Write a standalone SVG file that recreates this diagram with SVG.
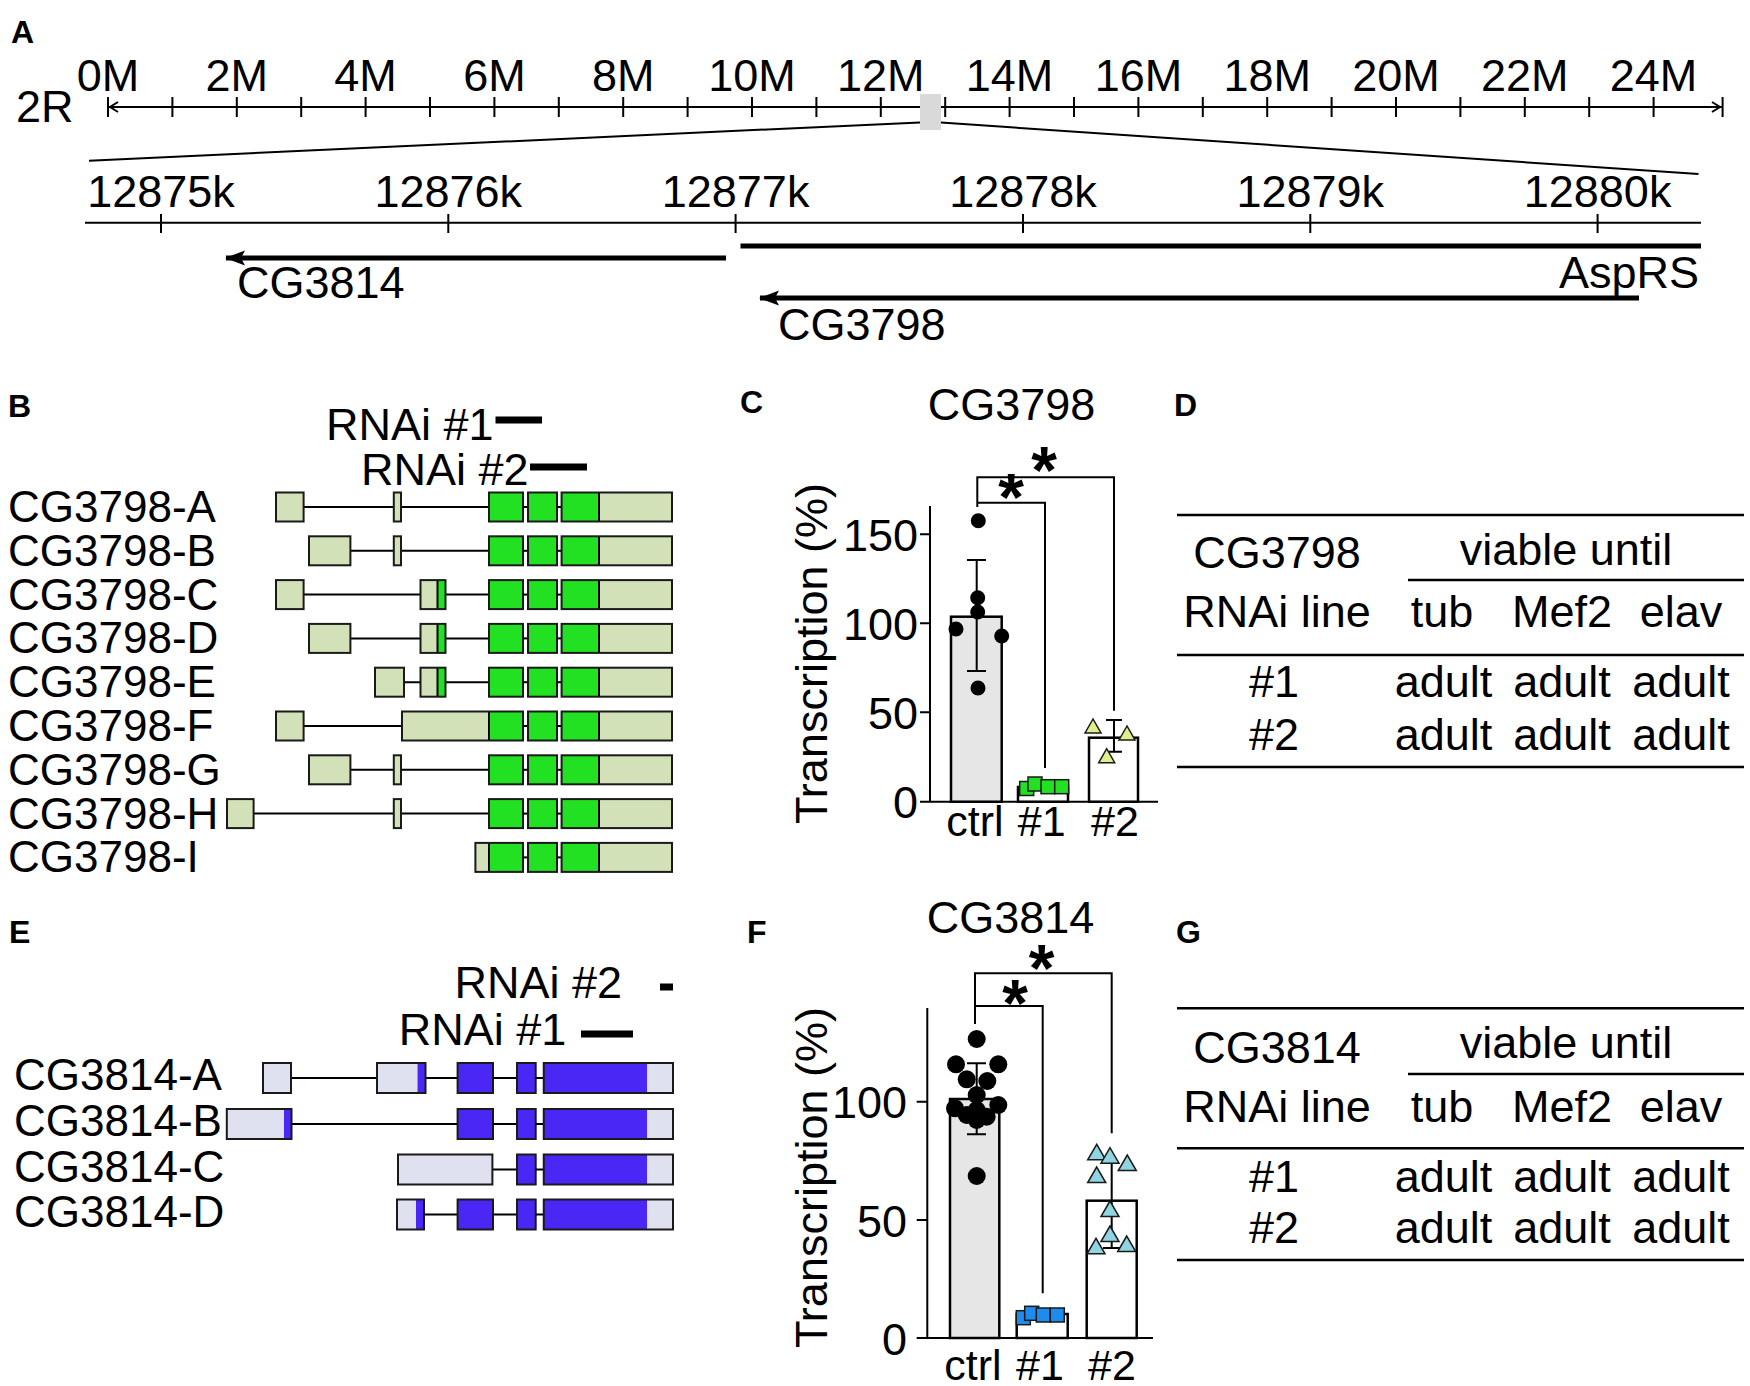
<svg xmlns="http://www.w3.org/2000/svg" width="1750" height="1386" viewBox="0 0 1750 1386">
<style>
text{font-family:"Liberation Sans",Arial,sans-serif;fill:#000}
.pl{font-size:32px;font-weight:bold}
.ax{font-size:45px}
.lb{font-size:44px}
.tb{font-size:45px}
.ad{font-size:45px;fill:#3a3a3a}
.mid{text-anchor:middle}
.end{text-anchor:end}
.star{font-size:66px;font-weight:bold;text-anchor:middle}
.ln{stroke:#000;stroke-width:2;fill:none}
.thick{stroke:#000;stroke-width:5;fill:none}
.rule{stroke:#000;stroke-width:2.5}
.ol{fill:none;stroke:#1a1a1a;stroke-width:2}
.gL{fill:#d2e1b8}
.gG{fill:#22e022}
.bL{fill:#dfe0f0}
.bB{fill:#4b27f5}
.intr{stroke:#000;stroke-width:2}
.bar{stroke:#000;stroke-width:2.5}
.dot{fill:#000}
</style>
<defs>
<marker id="ah" markerUnits="userSpaceOnUse" markerWidth="20" markerHeight="16" viewBox="0 0 20 16" refX="19" refY="8" orient="auto">
<path d="M0,0.5 L20,8 L0,15.5 L4,8 z" fill="#000"/>
</marker>
<g id="bcommon">
<line class="intr" x1="523" y1="0" x2="528" y2="0"/>
<rect class="gG" x="528" y="-14.5" width="29" height="29"/>
<rect class="ol" x="528" y="-14.5" width="29" height="29"/>
<line class="intr" x1="557" y1="0" x2="561.6" y2="0"/>
<rect class="gG" x="561.6" y="-14.5" width="37.4" height="29"/>
<rect class="gL" x="599" y="-14.5" width="73" height="29"/>
<line class="intr" x1="599" y1="-14.5" x2="599" y2="14.5"/>
<rect class="ol" x="561.6" y="-14.5" width="110.4" height="29"/>
</g>
<g id="bg1">
<rect class="gG" x="489" y="-14.5" width="34" height="29"/>
<rect class="ol" x="489" y="-14.5" width="34" height="29"/>
</g>
<g id="bsmall">
<rect class="gL" x="393.8" y="-14.5" width="7.2" height="29"/>
<rect class="ol" x="393.8" y="-14.5" width="7.2" height="29"/>
</g>
<g id="bmid">
<rect class="gL" x="420.5" y="-14.5" width="17" height="29"/>
<rect class="gG" x="437.5" y="-14.5" width="8" height="29"/>
<line class="intr" x1="437.5" y1="-14.5" x2="437.5" y2="14.5"/>
<rect class="ol" x="420.5" y="-14.5" width="25" height="29"/>
</g>
<g id="ecommon">
<rect class="bB" x="517" y="-15" width="18.7" height="30"/>
<rect class="ol" x="517" y="-15" width="18.7" height="30"/>
<line class="intr" x1="535.7" y1="0" x2="543.75" y2="0"/>
<rect class="bB" x="543.75" y="-15" width="103.55" height="30"/>
<rect class="bL" x="647.3" y="-15" width="25.7" height="30"/>
<rect class="ol" x="543.75" y="-15" width="129.25" height="30"/>
</g>
<g id="eb1">
<rect class="bB" x="457.6" y="-15" width="35.4" height="30"/>
<rect class="ol" x="457.6" y="-15" width="35.4" height="30"/>
<line class="intr" x1="493" y1="0" x2="517" y2="0"/>
</g>
</defs>

<g id="panelA">
<text class="pl" x="11" y="42.5">A</text>
<text class="ax" x="16" y="121.7">2R</text>
<g id="chrom-axis">
<line class="ln" x1="108" y1="107" x2="1722" y2="107"/>
<path class="ln" d="M118,102 L110,107 L118,112 M1712,102 L1720,107 L1712,112" stroke-width="1.6"/>
<line class="ln" x1="1722.6" y1="97" x2="1722.6" y2="117"/>
<path class="ln" d="M108,97V117M172.4,97V117M236.8,97V117M301.2,97V117M365.6,97V117M430,97V117M494.4,97V117M558.8,97V117M623.2,97V117M687.6,97V117M752,97V117M816.4,97V117M880.8,97V117M945.2,97V117M1009.6,97V117M1074,97V117M1138.4,97V117M1202.8,97V117M1267.2,97V117M1331.6,97V117M1396,97V117M1460.4,97V117M1524.8,97V117M1589.2,97V117M1653.6,97V117"/>
<g class="ax mid">
<text x="108" y="91">0M</text>
<text x="236.8" y="91">2M</text>
<text x="365.6" y="91">4M</text>
<text x="494.4" y="91">6M</text>
<text x="623.2" y="91">8M</text>
<text x="752" y="91">10M</text>
<text x="880.8" y="91">12M</text>
<text x="1009.6" y="91">14M</text>
<text x="1138.4" y="91">16M</text>
<text x="1267.2" y="91">18M</text>
<text x="1396" y="91">20M</text>
<text x="1524.8" y="91">22M</text>
<text x="1653.6" y="91">24M</text>
</g>
<rect x="920" y="94" width="21" height="36" fill="#d9d9d9"/>
</g>
<g id="zoom-lines">
<line class="ln" x1="89" y1="160.7" x2="920" y2="122.4" stroke-width="2.5"/>
<line class="ln" x1="941" y1="122.6" x2="1698.5" y2="174" stroke-width="2.5"/>
</g>
<g id="kb-axis">
<line class="ln" x1="85" y1="222.7" x2="1701" y2="222.7"/>
<path class="ln" d="M161,214V233M448.3,214V233M735.6,214V233M1023,214V233M1310.3,214V233M1597.6,214V233"/>
<g class="ax mid">
<text x="161" y="207">12875k</text>
<text x="448.3" y="207">12876k</text>
<text x="735.6" y="207">12877k</text>
<text x="1023" y="207">12878k</text>
<text x="1310.3" y="207">12879k</text>
<text x="1597.6" y="207">12880k</text>
</g>
</g>
<g id="gene-AspRS">
<line class="thick" x1="740.5" y1="246" x2="1701" y2="246"/>
<text class="ax end" x="1699" y="288">AspRS</text>
</g>
<g id="gene-CG3814">
<line class="thick" x1="726" y1="258" x2="226" y2="258" marker-end="url(#ah)"/>
<text class="ax" x="237" y="298">CG3814</text>
</g>
<g id="gene-CG3798">
<line class="thick" x1="1639" y1="298" x2="760" y2="298" marker-end="url(#ah)"/>
<text class="ax" x="778" y="340">CG3798</text>
</g>
</g>

<g id="panelB">
<text class="pl" x="8" y="417">B</text>
<g id="rnai-B">
<text class="ax" x="326" y="440" font-size="43">RNAi #1</text>
<line x1="495.5" y1="420" x2="542" y2="420" stroke="#000" stroke-width="7"/>
<text class="ax" x="361" y="485" font-size="43">RNAi #2</text>
<line x1="530" y1="467" x2="587" y2="467" stroke="#000" stroke-width="7"/>
</g>
<g class="lb">
<text x="8" y="522">CG3798-A</text>
<text x="8" y="565.8">CG3798-B</text>
<text x="8" y="609.6">CG3798-C</text>
<text x="8" y="653.4">CG3798-D</text>
<text x="8" y="697.2">CG3798-E</text>
<text x="8" y="741">CG3798-F</text>
<text x="8" y="784.8">CG3798-G</text>
<text x="8" y="828.6">CG3798-H</text>
<text x="8" y="872.4">CG3798-I</text>
</g>
<g id="tx-CG3798-A" transform="translate(0,507)">
<line class="intr" x1="303.6" y1="0" x2="489" y2="0"/>
<rect class="gL" x="276" y="-14.5" width="27.6" height="29"/><rect class="ol" x="276" y="-14.5" width="27.6" height="29"/>
<use href="#bsmall"/><use href="#bg1"/><use href="#bcommon"/>
</g>
<g id="tx-CG3798-B" transform="translate(0,550.8)">
<line class="intr" x1="350.4" y1="0" x2="489" y2="0"/>
<rect class="gL" x="309" y="-14.5" width="41.4" height="29"/><rect class="ol" x="309" y="-14.5" width="41.4" height="29"/>
<use href="#bsmall"/><use href="#bg1"/><use href="#bcommon"/>
</g>
<g id="tx-CG3798-C" transform="translate(0,594.6)">
<line class="intr" x1="303.6" y1="0" x2="489" y2="0"/>
<rect class="gL" x="276" y="-14.5" width="27.6" height="29"/><rect class="ol" x="276" y="-14.5" width="27.6" height="29"/>
<use href="#bmid"/><use href="#bg1"/><use href="#bcommon"/>
</g>
<g id="tx-CG3798-D" transform="translate(0,638.4)">
<line class="intr" x1="350.4" y1="0" x2="489" y2="0"/>
<rect class="gL" x="309" y="-14.5" width="41.4" height="29"/><rect class="ol" x="309" y="-14.5" width="41.4" height="29"/>
<use href="#bmid"/><use href="#bg1"/><use href="#bcommon"/>
</g>
<g id="tx-CG3798-E" transform="translate(0,682.2)">
<line class="intr" x1="404" y1="0" x2="489" y2="0"/>
<rect class="gL" x="375" y="-14.5" width="29" height="29"/><rect class="ol" x="375" y="-14.5" width="29" height="29"/>
<use href="#bmid"/><use href="#bg1"/><use href="#bcommon"/>
</g>
<g id="tx-CG3798-F" transform="translate(0,726)">
<line class="intr" x1="303.6" y1="0" x2="402" y2="0"/>
<rect class="gL" x="276" y="-14.5" width="27.6" height="29"/><rect class="ol" x="276" y="-14.5" width="27.6" height="29"/>
<rect class="gL" x="402" y="-14.5" width="87" height="29"/>
<rect class="gG" x="489" y="-14.5" width="34" height="29"/>
<line class="intr" x1="489" y1="-14.5" x2="489" y2="14.5"/>
<rect class="ol" x="402" y="-14.5" width="121" height="29"/>
<use href="#bcommon"/>
</g>
<g id="tx-CG3798-G" transform="translate(0,769.8)">
<line class="intr" x1="350.4" y1="0" x2="489" y2="0"/>
<rect class="gL" x="309" y="-14.5" width="41.4" height="29"/><rect class="ol" x="309" y="-14.5" width="41.4" height="29"/>
<use href="#bsmall"/><use href="#bg1"/><use href="#bcommon"/>
</g>
<g id="tx-CG3798-H" transform="translate(0,813.6)">
<line class="intr" x1="253.6" y1="0" x2="489" y2="0"/>
<rect class="gL" x="227" y="-14.5" width="26.6" height="29"/><rect class="ol" x="227" y="-14.5" width="26.6" height="29"/>
<use href="#bsmall"/><use href="#bg1"/><use href="#bcommon"/>
</g>
<g id="tx-CG3798-I" transform="translate(0,857.4)">
<rect class="gL" x="475.4" y="-14.5" width="13.6" height="29"/>
<rect class="gG" x="489" y="-14.5" width="34" height="29"/>
<line class="intr" x1="489" y1="-14.5" x2="489" y2="14.5"/>
<rect class="ol" x="475.4" y="-14.5" width="47.6" height="29"/>
<use href="#bcommon"/>
</g>
</g>

<g id="panelC">
<text class="pl" x="740" y="413">C</text>
<text class="ax mid" x="1011.5" y="420">CG3798</text>
<text class="ax mid" transform="translate(827,653.5) rotate(-90)">Transcription (%)</text>
<g id="axes-C">
<path class="ln" d="M930,506V801.7M920,801.7H1158M920,534.3H930M920,623.3H930M920,712.3H930" stroke-width="2.5"/>
<g class="ax end" font-size="46">
<text x="918" y="551">150</text>
<text x="918" y="640">100</text>
<text x="918" y="729">50</text>
<text x="918" y="818">0</text>
</g>
<g class="mid" font-size="43">
<text x="975" y="836">ctrl</text>
<text x="1041.7" y="836">#1</text>
<text x="1115" y="836">#2</text>
</g>
</g>
<g id="bars-C">
<rect class="bar" x="951" y="616.7" width="50.7" height="185" fill="#e6e6e6"/>
<rect class="bar" x="1018" y="787" width="50" height="14.7" fill="#fff"/>
<rect class="bar" x="1089" y="737.7" width="49" height="64" fill="#fff"/>
<path class="ln" d="M976.7,560V671M967,560H986M967,671H986M1114,720V751.7M1106,720H1122M1106,751.7H1122" stroke-width="2.5"/>
</g>
<g id="points-C">
<circle class="dot" cx="978.3" cy="520.7" r="7.5"/>
<circle class="dot" cx="977.7" cy="597.7" r="7.5"/>
<circle class="dot" cx="977.7" cy="612" r="7.5"/>
<circle class="dot" cx="956" cy="629" r="7.5"/>
<circle class="dot" cx="1001.7" cy="636" r="7.5"/>
<circle class="dot" cx="978" cy="688" r="7.5"/>
<g fill="#22e022" stroke="#1a1a1a" stroke-width="1.5">
<rect x="1019.7" y="781.5" width="14" height="14"/>
<rect x="1028" y="777" width="14" height="14"/>
<rect x="1041" y="779.7" width="14" height="14"/>
<rect x="1054.7" y="779.7" width="14" height="14"/>
</g>
<g fill="#dcf08c" stroke="#1a1a1a" stroke-width="1.5">
<path d="M1093,719L1085,733L1101,733Z"/>
<path d="M1127,726L1119,740L1135,740Z"/>
<path d="M1106.7,748.7L1098.7,762.7L1114.7,762.7Z"/>
</g>
</g>
<g id="sig-C">
<path class="ln" d="M977.3,507V477.3H1114V710.7M977.3,502.7H1045V768" stroke-width="2.5"/>
<text class="star" x="1044" y="493">*</text>
<text class="star" x="1011" y="520">*</text>
</g>
</g>

<g id="panelD">
<text class="pl" x="1174" y="416">D</text>
<path class="rule" d="M1177,515H1744M1408,580H1744M1177,655H1744M1177,767H1744"/>
<g class="tb mid">
<text x="1277" y="568">CG3798</text>
<text x="1566" y="565">viable until</text>
<text x="1277" y="627">RNAi line</text>
<text x="1442" y="627">tub</text>
<text x="1562" y="627">Mef2</text>
<text x="1681" y="627">elav</text>
<text x="1274" y="697">#1</text>
<text x="1274" y="750">#2</text>
</g>
<g class="ad mid">
<text x="1443.5" y="697">adult</text><text x="1562" y="697">adult</text><text x="1681" y="697">adult</text>
<text x="1443.5" y="750">adult</text><text x="1562" y="750">adult</text><text x="1681" y="750">adult</text>
</g>
</g>

<g id="panelE">
<text class="pl" x="9" y="943">E</text>
<g id="rnai-E">
<text class="ax" x="454.5" y="998" font-size="43">RNAi #2</text>
<line x1="660" y1="987" x2="673" y2="987" stroke="#000" stroke-width="7"/>
<text class="ax" x="398.7" y="1045" font-size="43">RNAi #1</text>
<line x1="581" y1="1034" x2="633" y2="1034" stroke="#000" stroke-width="7"/>
</g>
<g class="lb">
<text x="14" y="1090">CG3814-A</text>
<text x="14" y="1136">CG3814-B</text>
<text x="14" y="1181.5">CG3814-C</text>
<text x="14" y="1226.5">CG3814-D</text>
</g>
<g id="tx-CG3814-A" transform="translate(0,1078)">
<line class="intr" x1="291" y1="0" x2="377" y2="0"/>
<line class="intr" x1="425.5" y1="0" x2="457.6" y2="0"/>
<rect class="bL" x="263" y="-15" width="28" height="30"/><rect class="ol" x="263" y="-15" width="28" height="30"/>
<rect class="bL" x="377" y="-15" width="40.5" height="30"/><rect class="bB" x="417.5" y="-15" width="8" height="30"/>
<rect class="ol" x="377" y="-15" width="48.5" height="30"/>
<use href="#eb1"/><use href="#ecommon"/>
</g>
<g id="tx-CG3814-B" transform="translate(0,1124)">
<line class="intr" x1="291.5" y1="0" x2="457.6" y2="0"/>
<rect class="bL" x="226.8" y="-15" width="57.2" height="30"/><rect class="bB" x="284" y="-15" width="7.5" height="30"/>
<rect class="ol" x="226.8" y="-15" width="64.7" height="30"/>
<use href="#eb1"/><use href="#ecommon"/>
</g>
<g id="tx-CG3814-C" transform="translate(0,1169.5)">
<line class="intr" x1="492.4" y1="0" x2="517" y2="0"/>
<rect class="bL" x="398" y="-15" width="94.4" height="30"/><rect class="ol" x="398" y="-15" width="94.4" height="30"/>
<use href="#ecommon"/>
</g>
<g id="tx-CG3814-D" transform="translate(0,1214.5)">
<line class="intr" x1="424" y1="0" x2="457.6" y2="0"/>
<rect class="bL" x="397" y="-15" width="19" height="30"/><rect class="bB" x="416" y="-15" width="8" height="30"/>
<rect class="ol" x="397" y="-15" width="27" height="30"/>
<use href="#eb1"/><use href="#ecommon"/>
</g>
</g>

<g id="panelF">
<text class="pl" x="747" y="943">F</text>
<text class="ax mid" x="1010.5" y="933">CG3814</text>
<text class="ax mid" transform="translate(827,1177.5) rotate(-90)">Transcription (%)</text>
<g id="axes-F">
<path class="ln" d="M927.3,1008V1338M916.7,1338H1153M916.7,1101.7H927.3M916.7,1220H927.3" stroke-width="2.5"/>
<g class="ax end" font-size="46">
<text x="907" y="1118">100</text>
<text x="907" y="1236.5">50</text>
<text x="907" y="1354.5">0</text>
</g>
<g class="mid" font-size="43">
<text x="973" y="1380">ctrl</text>
<text x="1040" y="1380">#1</text>
<text x="1112" y="1380">#2</text>
</g>
</g>
<g id="bars-F">
<rect class="bar" x="950" y="1099" width="49.3" height="239" fill="#e6e6e6"/>
<rect class="bar" x="1016.7" y="1314" width="51" height="24" fill="#fff"/>
<rect class="bar" x="1086.7" y="1200.7" width="50" height="137.3" fill="#fff"/>
<path class="ln" d="M976.7,1063.3V1134.3M967,1063.3H986M967,1134.3H986M1111.7,1161.7V1248M1103,1248H1120" stroke-width="2.5"/>
</g>
<g id="points-F">
<g class="dot">
<circle cx="976.7" cy="1039" r="9"/>
<circle cx="956" cy="1064.3" r="9"/>
<circle cx="998.3" cy="1064.3" r="9"/>
<circle cx="966.7" cy="1079.3" r="9"/>
<circle cx="987.3" cy="1081" r="9"/>
<circle cx="976.7" cy="1095" r="9"/>
<circle cx="998.3" cy="1105" r="9"/>
<circle cx="955" cy="1108.3" r="9"/>
<circle cx="976.7" cy="1110" r="9"/>
<circle cx="966.7" cy="1115" r="9"/>
<circle cx="986.7" cy="1116.7" r="9"/>
<circle cx="976.7" cy="1120" r="9"/>
<circle cx="976.7" cy="1176" r="9"/>
</g>
<g fill="#1e8cec" stroke="#1a1a1a" stroke-width="1.5">
<rect x="1016.3" y="1310.7" width="14" height="14"/>
<rect x="1024.7" y="1306.3" width="14" height="14"/>
<rect x="1036.3" y="1308" width="14" height="14"/>
<rect x="1050.3" y="1308" width="14" height="14"/>
</g>
<g fill="#8fd4e0" stroke="#1a1a1a" stroke-width="1.5">
<path d="M1096.7,1144.3l-9,15.5h18z"/>
<path d="M1110,1147.7l-9,15.5h18z"/>
<path d="M1127.3,1155l-9,15.5h18z"/>
<path d="M1096.7,1167l-9,15.5h18z"/>
<path d="M1110,1201l-9,15.5h18z"/>
<path d="M1110,1226l-9,15.5h18z"/>
<path d="M1096,1238.3l-9,15.5h18z"/>
<path d="M1126.7,1236l-9,15.5h18z"/>
</g>
</g>
<g id="sig-F">
<path class="ln" d="M975,1024V973.3H1111.7V1133.3M975,1006H1042.7V1293.3" stroke-width="2.5"/>
<text class="star" x="1041.7" y="991">*</text>
<text class="star" x="1015" y="1026">*</text>
</g>
</g>

<g id="panelG">
<text class="pl" x="1176" y="943">G</text>
<path class="rule" d="M1177,1008.3H1744M1408,1074H1744M1177,1148.3H1744M1177,1260H1744"/>
<g class="tb mid">
<text x="1277" y="1063">CG3814</text>
<text x="1566" y="1058">viable until</text>
<text x="1277" y="1121.7">RNAi line</text>
<text x="1442" y="1121.7">tub</text>
<text x="1562" y="1121.7">Mef2</text>
<text x="1681" y="1121.7">elav</text>
<text x="1274" y="1191.7">#1</text>
<text x="1274" y="1243.3">#2</text>
</g>
<g class="ad mid">
<text x="1443.5" y="1191.7">adult</text><text x="1562" y="1191.7">adult</text><text x="1681" y="1191.7">adult</text>
<text x="1443.5" y="1243.3">adult</text><text x="1562" y="1243.3">adult</text><text x="1681" y="1243.3">adult</text>
</g>
</g>
</svg>
